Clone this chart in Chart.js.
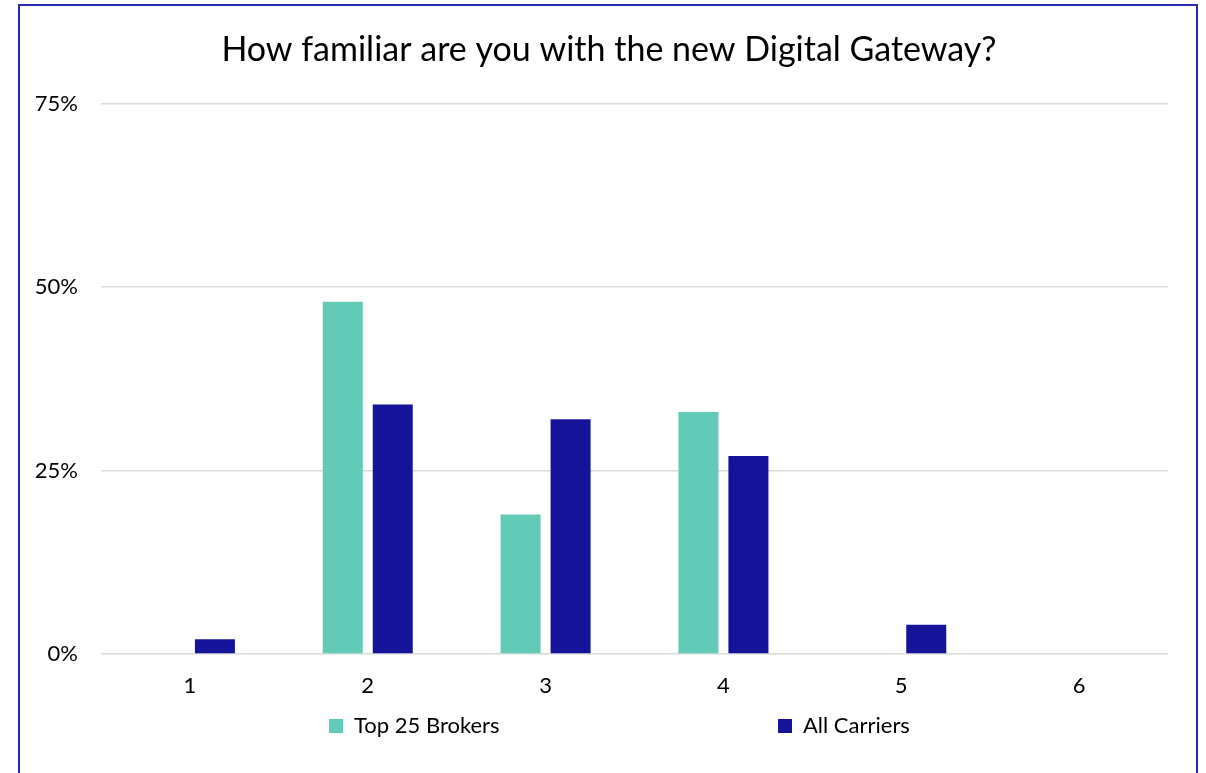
<!DOCTYPE html>
<html>
<head>
<meta charset="utf-8">
<script src="https://cdn.jsdelivr.net/npm/chart.js@4"></script>
<style>
  html, body { margin: 0; padding: 0; background: #ffffff; overflow: hidden; }
  #wrap { position: relative; width: 1206px; height: 773px; }
  #frame { position: absolute; left: 18px; top: 4px; width: 1176px; height: 820px; border: 2px solid #2a2ab0; pointer-events: none; }
  canvas { position: absolute; left: 0; top: 0; }
</style>
</head>
<body>
<div id="wrap">
  <canvas id="c" width="1206" height="773"></canvas>
  <div id="frame"></div>
</div>
<script>
const categories = ['1', '2', '3', '4', '5', '6'];
const top25Brokers = [0, 48, 19, 33, 0, 0];
const allCarriers = [2, 34, 32, 27, 4, 0];
const yTickValues = [0, 25, 50, 75];

const FONT = 'Lato';
const LABEL_SIZE = 22;
const LEGEND_ROW_TOP = 715;
const LEGEND_ROW_LEFT = 329;
const LEGEND_SECOND_ITEM_OFFSET = 449;
const TITLE_CENTER_X = 609;

// spacing between legend items so the second item lands where the reference shows it
const mctx = document.createElement('canvas').getContext('2d');
mctx.font = LABEL_SIZE + 'px ' + FONT;
const firstItemWidth = 14 + LABEL_SIZE / 2 + mctx.measureText('Top 25 Brokers').width;
const legendPad = Math.max(10, LEGEND_SECOND_ITEM_OFFSET - firstItemWidth);

const placementPlugin = {
  id: 'placementPlugin',
  beforeDraw(chart) {
    const lg = chart.legend;
    if (lg && lg.lineWidths) {
      const P = lg.options.labels.padding;
      const R = 5000;
      lg.top = LEGEND_ROW_TOP - P;
      lg.right = R;
      lg.left = 2 * LEGEND_ROW_LEFT - P - R + lg.lineWidths[0];
    }
    const tb = chart.titleBlock;
    if (tb) {
      tb.left = 2 * TITLE_CENTER_X - tb.right;
    }
  }
};

new Chart(document.getElementById('c'), {
  type: 'bar',
  data: {
    labels: categories,
    datasets: [
      { label: 'Top 25 Brokers', data: top25Brokers, backgroundColor: '#62cbb7', borderWidth: 0 },
      { label: 'All Carriers', data: allCarriers, backgroundColor: '#14149b', borderWidth: 0 }
    ]
  },
  options: {
    responsive: false,
    animation: false,
    devicePixelRatio: 1,
    layout: { padding: { left: 25, right: 38, top: 0, bottom: 0 } },
    datasets: { bar: { categoryPercentage: 0.5625, barPercentage: 0.8 } },
    plugins: {
      title: {
        display: true,
        text: 'How familiar are you with the new Digital Gateway?',
        color: '#000000',
        font: { family: FONT, size: 34, weight: 'normal' },
        padding: { top: 30, bottom: 33 }
      },
      legend: {
        position: 'bottom',
        maxHeight: 30,
        labels: {
          boxWidth: 14,
          boxHeight: 14,
          padding: legendPad,
          color: '#000000',
          font: { family: FONT, size: LABEL_SIZE }
        }
      },
      tooltip: { enabled: false }
    },
    scales: {
      x: {
        grid: { display: false },
        border: { display: false },
        ticks: { color: '#000000', font: { family: FONT, size: LABEL_SIZE }, padding: 11 },
        afterFit(scale) { scale.height = 89; }
      },
      y: {
        min: 0,
        max: 75,
        afterBuildTicks(scale) { scale.ticks = yTickValues.map(v => ({ value: v })); },
        grid: { color: '#d9d9d9', lineWidth: 1.5, drawTicks: false },
        border: { display: false },
        ticks: {
          color: '#000000',
          font: { family: FONT, size: LABEL_SIZE },
          padding: 23,
          callback: v => v + '%'
        },
        afterFit(scale) { scale.width = 76; }
      }
    }
  },
  plugins: [placementPlugin]
});
</script>
</body>
</html>
